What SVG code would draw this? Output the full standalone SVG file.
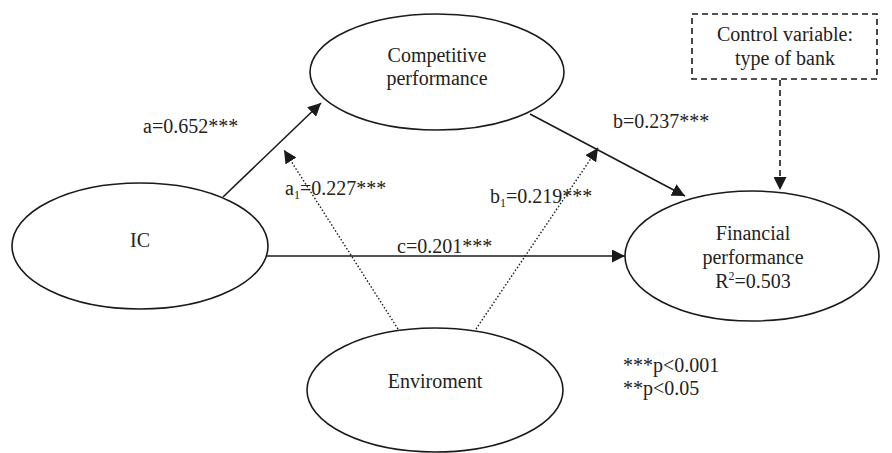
<svg xmlns="http://www.w3.org/2000/svg" width="892" height="453" viewBox="0 0 892 453">
<defs>
<marker id="ah" viewBox="0 0 10 10" refX="10" refY="5" markerWidth="13" markerHeight="13" markerUnits="userSpaceOnUse" orient="auto">
<path d="M0,0 L10,5 L0,10 Z" fill="#1a1a1a"/>
</marker>
</defs>
<style>
text{font-family:"Times New Roman",Times,Tinos,"Liberation Serif","Nimbus Roman","DejaVu Serif",serif;font-size:20px;fill:#222}
.n ellipse{fill:#fff;stroke:#1a1a1a;stroke-width:1.6}
.c{text-anchor:middle}
.solid{stroke:#1a1a1a;stroke-width:1.6;fill:none}
.dot{stroke:#1a1a1a;stroke-width:1.4;stroke-dasharray:1.5 2;fill:none}
.dash{stroke:#1a1a1a;stroke-width:1.6;stroke-dasharray:6 4;fill:none}
.sub{font-size:12px}
</style>
<g id="connectors">
<line class="solid" x1="223" y1="197" x2="321" y2="103" marker-end="url(#ah)"/>
<line class="solid" x1="530" y1="114" x2="685" y2="196" marker-end="url(#ah)"/>
<line class="solid" x1="267" y1="256" x2="625" y2="256" marker-end="url(#ah)"/>
<line class="dot" x1="398" y1="329" x2="284" y2="150" marker-end="url(#ah)"/>
<line class="dot" x1="476" y1="329" x2="598" y2="148" marker-end="url(#ah)"/>
<line class="dash" x1="780" y1="80" x2="780" y2="190" marker-end="url(#ah)"/>
<text x="143" y="133">a=0.652***</text>
<text x="613" y="128">b=0.237***</text>
<text x="397" y="253">c=0.201***</text>
<text x="285" y="195">a<tspan class="sub" dy="4">1</tspan><tspan dy="-4">=0.227***</tspan></text>
<text x="490" y="203">b<tspan class="sub" dy="4">1</tspan><tspan dy="-4">=0.219***</tspan></text>
</g>
<g id="competitive" class="n">
<ellipse cx="437" cy="72" rx="127" ry="58"/>
<text class="c" x="437" y="62">Competitive</text>
<text class="c" x="437" y="85">performance</text>
</g>
<g id="ic" class="n">
<ellipse cx="140" cy="246" rx="128" ry="63"/>
<text class="c" x="140" y="247">IC</text>
</g>
<g id="financial" class="n">
<ellipse cx="752" cy="256" rx="127" ry="65"/>
<text class="c" x="753" y="240">Financial</text>
<text class="c" x="753" y="264">performance</text>
<text class="c" x="753" y="288">R<tspan class="sub" dy="-8">2</tspan><tspan dy="8">=0.503</tspan></text>
</g>
<g id="environment" class="n">
<ellipse cx="435" cy="390" rx="128" ry="62"/>
<text class="c" x="435" y="388">Enviroment</text>
</g>
<g id="control">
<rect class="dash" x="692" y="14" width="185" height="65"/>
<text class="c" x="785" y="41">Control variable:</text>
<text class="c" x="785" y="65">type of bank</text>
</g>
<g id="legend">
<text x="623" y="372">***p&lt;0.001</text>
<text x="623" y="395">**p&lt;0.05</text>
</g>
</svg>
